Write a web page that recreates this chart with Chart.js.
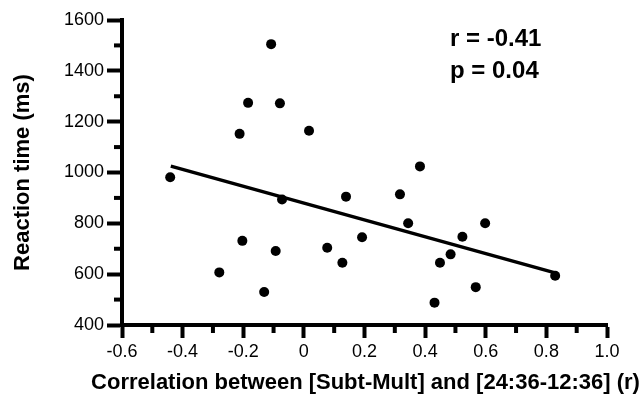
<!DOCTYPE html>
<html>
<head>
<meta charset="utf-8">
<script src="https://cdn.jsdelivr.net/npm/chart.js@4/dist/chart.umd.min.js"></script>
<style>
    html, body { margin: 0; padding: 0; background: #fff; }
    #wrap { width: 641px; height: 395px; position: relative; }
</style>
</head>
<body>
<div id="wrap"><canvas id="chart"></canvas></div>
<script>
// ==================== Data ====================
const corrX = [-0.441, -0.279, -0.203, -0.212, -0.184, -0.108, -0.079, -0.131, -0.093, -0.072, 0.017,
               0.077, 0.127, 0.139, 0.192, 0.317, 0.344, 0.383, 0.431, 0.449, 0.484, 0.523, 0.567, 0.598, 0.829];
const rtY   = [981, 607, 731, 1152, 1274, 1505, 1272, 530, 691, 894, 1164,
               704, 645, 905, 745, 914, 800, 1024, 488, 645, 678, 747, 549, 800, 594];
const fitX = [-0.439, 0.826];
const fitY = [1025, 606];
const xTicks = [-0.6, -0.4, -0.2, 0, 0.2, 0.4, 0.6, 0.8, 1.0];
const yTicks = [400, 600, 800, 1000, 1200, 1400, 1600];
const statLines = ['r = -0.41', 'p = 0.04'];
const xTitle = 'Correlation between [Subt-Mult] and [24:36-12:36] (r)';

const FONT = "'Liberation Sans', Arial, Helvetica, sans-serif";

function fmtX(v) {
    if (Math.abs(v) < 1e-9) return '0';
    return v.toFixed(1);
}

// minor ticks halfway between majors, the r/p text, and the x title
// (Chart.js squeezes a title to the scale width, this one is wider)
const extrasPlugin = {
    id: 'extras',
    afterDraw(chart) {
        const { ctx, scales: { x, y }, chartArea } = chart;
        ctx.save();
        ctx.strokeStyle = '#000';
        ctx.lineWidth = 4;
        ctx.lineCap = 'butt';
        for (let i = 0; i < xTicks.length - 1; i++) {
            const px = x.getPixelForValue((xTicks[i] + xTicks[i + 1]) / 2);
            ctx.beginPath();
            ctx.moveTo(px, chartArea.bottom);
            ctx.lineTo(px, chartArea.bottom + 8);
            ctx.stroke();
        }
        for (let i = 0; i < yTicks.length - 1; i++) {
            const py = y.getPixelForValue((yTicks[i] + yTicks[i + 1]) / 2);
            ctx.beginPath();
            ctx.moveTo(chartArea.left, py);
            ctx.lineTo(chartArea.left - 8, py);
            ctx.stroke();
        }
        ctx.fillStyle = '#000';
        ctx.font = `bold 24px ${FONT}`;
        ctx.textAlign = 'left';
        ctx.textBaseline = 'middle';
        statLines.forEach((t, i) => ctx.fillText(t, 450, 39 + i * 32));

        ctx.font = `bold 22px ${FONT}`;
        ctx.textAlign = 'center';
        ctx.fillText(xTitle, (chartArea.left + chartArea.right) / 2 + 1, 383);
        ctx.restore();
    }
};

const ctx = document.getElementById('chart').getContext('2d');
new Chart(ctx, {
    data: {
        datasets: [
            {
                type: 'scatter',
                data: corrX.map((v, i) => ({ x: v, y: rtY[i] })),
                backgroundColor: '#000',
                borderColor: '#000',
                pointRadius: 5,
                pointBorderWidth: 0
            },
            {
                type: 'line',
                data: fitX.map((v, i) => ({ x: v, y: fitY[i] })),
                borderColor: '#000',
                borderWidth: 3.5,
                pointRadius: 0,
                fill: false
            }
        ]
    },
    options: {
        responsive: true,
        maintainAspectRatio: false,
        animation: false,
        layout: { padding: { top: 20, right: 34, bottom: 0, left: 0 } },
        plugins: { legend: { display: false }, tooltip: { enabled: false } },
        scales: {
            x: {
                type: 'linear',
                min: -0.6, max: 1.0,
                afterBuildTicks: s => { s.ticks = xTicks.map(v => ({ value: v })); },
                afterFit: s => { s.height = 70; },
                border: { display: true, color: '#000', width: 4 },
                grid: { display: true, drawOnChartArea: false, drawTicks: true, tickLength: 13, tickWidth: 4, tickColor: '#000' },
                ticks: { color: '#000', font: { family: FONT, size: 18 }, padding: 3, callback: v => fmtX(v), maxRotation: 0, autoSkip: false },
                title: { display: false }
            },
            y: {
                type: 'linear',
                min: 400, max: 1600,
                afterBuildTicks: s => { s.ticks = yTicks.map(v => ({ value: v })); },
                afterFit: s => { s.width = 122; },
                border: { display: true, color: '#000', width: 4 },
                grid: { display: true, drawOnChartArea: false, drawTicks: true, tickLength: 15, tickWidth: 4, tickColor: '#000' },
                ticks: { color: '#000', font: { family: FONT, size: 18 }, padding: 3, callback: v => String(v) },
                title: {
                    display: true,
                    text: 'Reaction time (ms)',
                    color: '#000',
                    font: { family: FONT, size: 22, weight: 'bold' },
                    padding: { top: 10, bottom: 0 }
                }
            }
        }
    },
    plugins: [extrasPlugin]
});
</script>
</body>
</html>
